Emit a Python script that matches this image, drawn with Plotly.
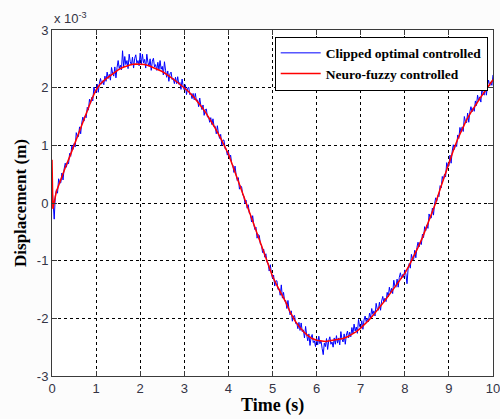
import numpy as np
import plotly.graph_objects as go

# ---- data (displacement in units of 1e-3 m) ----
blue_time = np.round(np.arange(401) * 0.025, 3).tolist()
clipped_optimal = [
    # 0 - 1 s
    0.30, -0.05, -0.28, 0.12, 0.23, 0.17, 0.42, 0.35, 0.35, 0.52,
    0.40, 0.59, 0.69, 0.62, 0.71, 0.68, 0.86, 0.81, 1.00, 0.93,
    1.03, 0.97, 1.22, 1.15, 1.15, 1.32, 1.20, 1.39, 1.49, 1.42,
    1.51, 1.48, 1.66, 1.61, 1.80, 1.73, 1.83, 1.77, 2.01, 1.93,
    # 1 - 2 s
    1.91, 2.06, 1.92, 2.08, 2.16, 2.06, 2.12, 2.05, 2.20, 2.11,
    2.27, 2.16, 2.23, 2.13, 2.35, 2.25, 2.20, 2.36, 2.17, 2.35,
    2.47, 2.33, 2.39, 2.31, 2.64, 2.36, 2.54, 2.40, 2.47, 2.33,
    2.58, 2.45, 2.39, 2.53, 2.34, 2.51, 2.57, 2.42, 2.47, 2.38,
    # 2 - 3 s
    2.60, 2.41, 2.58, 2.43, 2.49, 2.34, 2.58, 2.44, 2.37, 2.50,
    2.30, 2.46, 2.51, 2.36, 2.40, 2.30, 2.44, 2.31, 2.47, 2.32,
    2.37, 2.22, 2.45, 2.30, 2.18, 2.29, 2.11, 2.24, 2.27, 2.14,
    2.16, 2.07, 2.18, 2.07, 2.19, 2.06, 2.09, 1.97, 2.15, 2.02,
    # 3 - 4 s
    1.96, 2.05, 1.88, 1.99, 2.01, 1.88, 1.90, 1.81, 1.90, 1.79,
    1.90, 1.77, 1.79, 1.67, 1.82, 1.69, 1.62, 1.70, 1.52, 1.62,
    1.63, 1.49, 1.50, 1.40, 1.48, 1.36, 1.46, 1.32, 1.33, 1.20,
    1.34, 1.20, 1.12, 1.19, 1.00, 1.09, 1.09, 0.94, 0.94, 0.83,
    # 4 - 5 s
    0.90, 0.77, 0.83, 0.68, 0.66, 0.53, 0.64, 0.49, 0.39, 0.44,
    0.24, 0.30, 0.28, 0.14, 0.12, -0.01, 0.05, -0.09, -0.03, -0.18,
    -0.19, -0.33, -0.22, -0.37, -0.46, -0.42, -0.61, -0.55, -0.56, -0.71,
    -0.73, -0.86, -0.80, -0.94, -0.88, -1.03, -1.04, -1.18, -1.07, -1.22,
    # 5 - 6 s
    -1.31, -1.25, -1.44, -1.35, -1.35, -1.50, -1.49, -1.60, -1.42, -1.65,
    -1.55, -1.70, -1.69, -1.83, -1.69, -1.85, -1.94, -1.87, -2.05, -1.96,
    -1.95, -2.09, -2.08, -2.18, -2.07, -2.21, -2.08, -2.23, -2.20, -2.34,
    -2.14, -2.29, -2.39, -2.27, -2.47, -2.33, -2.28, -2.42, -2.39, -2.49,
    # 6 - 7 s
    -2.34, -2.46, -2.31, -2.44, -2.39, -2.52, -2.63, -2.43, -2.49, -2.35,
    -2.54, -2.39, -2.32, -2.45, -2.41, -2.50, -2.34, -2.45, -2.30, -2.43,
    -2.34, -2.46, -2.23, -2.36, -2.41, -2.27, -2.45, -2.29, -2.22, -2.34,
    -2.24, -2.32, -2.16, -2.26, -2.10, -2.22, -2.15, -2.26, -2.02, -2.14,
    # 7 - 8 s
    -2.17, -2.04, -2.19, -2.03, -1.96, -2.06, -2.00, -2.06, -1.91, -1.99,
    -1.83, -1.93, -1.87, -1.96, -1.74, -1.84, -1.86, -1.72, -1.86, -1.70,
    -1.62, -1.72, -1.65, -1.71, -1.55, -1.63, -1.46, -1.56, -1.48, -1.57,
    -1.34, -1.44, -1.46, -1.32, -1.46, -1.29, -1.21, -1.31, -1.24, -1.29,
    # 8 - 9 s
    -1.16, -1.23, -1.40, -1.14, -1.05, -1.13, -0.89, -0.97, -0.98, -0.82,
    -0.95, -0.77, -0.68, -0.76, -0.68, -0.72, -0.54, -0.60, -0.41, -0.48,
    -0.38, -0.44, -0.19, -0.26, -0.26, -0.09, -0.21, -0.02, 0.09, 0.03,
    0.13, 0.11, 0.30, 0.26, 0.46, 0.40, 0.50, 0.45, 0.70, 0.64,
    # 9 - 10 s
    0.64, 0.83, 0.69, 0.90, 1.01, 0.93, 1.02, 0.98, 1.18, 1.12,
    1.31, 1.23, 1.32, 1.24, 1.50, 1.41, 1.39, 1.56, 1.40, 1.58,
    1.67, 1.58, 1.65, 1.59, 1.77, 1.69, 1.87, 1.77, 1.84, 1.75,
    2.00, 1.90, 1.87, 2.03, 1.87, 2.05, 2.13, 2.03, 2.10, 2.04,
    2.22,
]

red_time = [0.0, 0.02] + np.round(np.arange(1, 101) * 0.1, 2).tolist()
neuro_fuzzy = [
    0.75, -0.10,
    0.20, 0.42, 0.61, 0.80, 1.00, 1.20, 1.40, 1.60, 1.80, 1.96,
    2.07, 2.14, 2.20, 2.26, 2.31, 2.35, 2.38, 2.40, 2.41, 2.41,
    2.40, 2.38, 2.35, 2.32, 2.28, 2.23, 2.18, 2.12, 2.06, 2.00,
    1.93, 1.85, 1.76, 1.66, 1.55, 1.43, 1.30, 1.16, 1.01, 0.85,
    0.64, 0.43, 0.21, 0.00, -0.21, -0.42, -0.63, -0.85, -1.06, -1.27,
    -1.43, -1.57, -1.72, -1.89, -2.03, -2.14, -2.23, -2.30, -2.35, -2.38,
    -2.39, -2.40, -2.39, -2.38, -2.37, -2.35, -2.32, -2.28, -2.23, -2.17,
    -2.10, -2.02, -1.93, -1.84, -1.74, -1.64, -1.54, -1.44, -1.33, -1.22,
    -1.08, -0.93, -0.77, -0.60, -0.41, -0.21, 0.00, 0.24, 0.47, 0.69,
    0.91, 1.11, 1.29, 1.44, 1.57, 1.70, 1.81, 1.92, 2.03, 2.14,
]

x_ticks = [0, 1, 2, 3, 4, 5, 6, 7, 8, 9, 10]
y_ticks = [-3, -2, -1, 0, 1, 2, 3]
series_names = ["Clipped optimal controlled", "Neuro-fuzzy controlled"]

fig = go.Figure()
fig.add_trace(go.Scatter(x=blue_time, y=clipped_optimal, mode="lines",
                         name="<b>" + series_names[0] + "</b>",
                         line=dict(color="#0000ff", width=1)))
fig.add_trace(go.Scatter(x=red_time, y=neuro_fuzzy, mode="lines",
                         name="<b>" + series_names[1] + "</b>",
                         line=dict(color="#ff0000", width=1.5)))

axis_common = dict(
    showline=True, linecolor="#3a3a3a", linewidth=1, mirror="ticks",
    ticks="inside", ticklen=5, tickcolor="#3a3a3a",
    showgrid=True, gridcolor="#000000", gridwidth=1, griddash="3px,3px",
    zeroline=False, automargin=False, ticklabeloverflow="allow",
    tickfont=dict(family="Liberation Sans, Arial, sans-serif", size=13, color="#333344"),
)

fig.update_xaxes(range=[0, 10], tickvals=x_ticks, ticktext=[str(v) for v in x_ticks], **axis_common)
fig.update_yaxes(range=[-3, 3], tickvals=y_ticks, ticktext=[str(v) for v in y_ticks], **axis_common)

title_font = dict(family="Liberation Serif, Times New Roman, serif", size=18, color="#000")
fig.add_annotation(xref="paper", yref="paper", x=0.5, y=-0.084, xanchor="center", yanchor="middle",
                   showarrow=False, text="<b>Time (s)</b>", font=title_font)
fig.add_annotation(xref="paper", yref="paper", x=-0.0726, y=0.5, xanchor="center", yanchor="middle",
                   showarrow=False, textangle=-90, text="<b>Displacement (m)</b>",
                   font=dict(family="Liberation Serif, Times New Roman, serif", size=17, color="#000"))
fig.add_annotation(xref="paper", yref="paper", x=0, y=1, xanchor="left", yanchor="bottom",
                   yshift=2, showarrow=False,
                   text="x 10<sup>-3</sup>",
                   font=dict(family="Liberation Sans, Arial, sans-serif", size=13, color="#333344"))

fig.update_layout(
    width=500, height=419,
    margin=dict(l=52, r=7, t=30, b=43),
    paper_bgcolor="#fcfcfc", plot_bgcolor="#ffffff",
    showlegend=True,
    legend=dict(x=0.988, y=0.981, xanchor="right", yanchor="top",
                bgcolor="#ffffff", bordercolor="#000000", borderwidth=1,
                font=dict(family="Liberation Serif, Times New Roman, serif", size=13.5, color="#000"),
                itemwidth=40, tracegroupgap=0),
)

fig.write_html("out.html", config={"displayModeBar": False},
               post_script="document.body.style.margin='0';document.body.style.padding='0';")
